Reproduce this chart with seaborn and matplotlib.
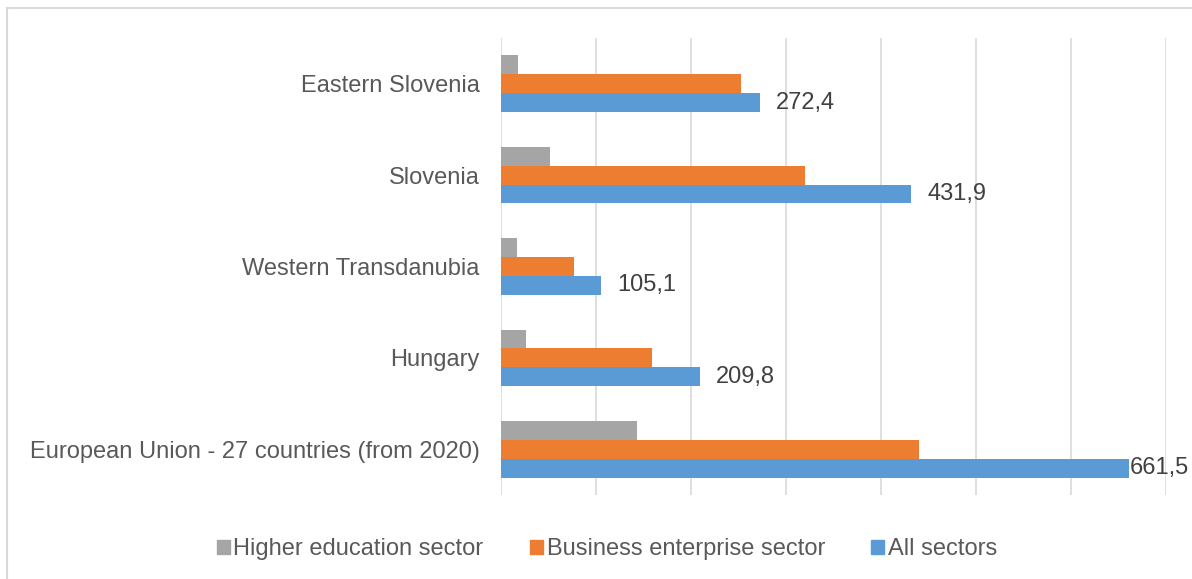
import matplotlib
matplotlib.use("Agg")
import matplotlib.pyplot as plt
import seaborn as sns
import pandas as pd
from matplotlib.patches import Rectangle

regions = ["Eastern Slovenia", "Slovenia", "Western Transdanubia", "Hungary",
           "European Union - 27 countries (from 2020)"]
sectors = ["Higher education sector", "Business enterprise sector", "All sectors"]
higher_education = [18.2, 51.2, 16.8, 25.9, 142.7]
business_enterprise = [252.6, 320.3, 77.2, 158.5, 439.8]
all_sectors = [272.4, 431.9, 105.1, 209.8, 661.5]
colors = ["#a5a5a5", "#ed7d31", "#5b9bd5"]

rows = []
for vals, sec in zip([higher_education, business_enterprise, all_sectors], sectors):
    for r, v in zip(regions, vals):
        rows.append({"region": r, "sector": sec, "value": v})
df = pd.DataFrame(rows)

sns.set_theme(style="white")
plt.rcParams["font.family"] = ["Liberation Sans", "DejaVu Sans"]

W, H = 1192, 579
fig = plt.figure(figsize=(W / 100, H / 100), dpi=100)
ax = fig.add_axes([501 / W, 1 - 495 / H, (1166 - 501) / W, (495 - 38) / H])

sns.barplot(data=df, y="region", x="value", hue="sector", order=regions,
            hue_order=sectors, palette=colors, orient="h", width=0.62,
            saturation=1, ax=ax, legend=True, edgecolor="none", linewidth=0)

ax.set_xlim(0, 700)
ax.set_xticks(range(0, 701, 100))
ax.set_xticklabels([])
ax.tick_params(axis="x", length=0)
ax.tick_params(axis="y", length=0, labelsize=17, labelcolor="#595959", pad=15.5)
ax.set_xlabel("")
ax.set_ylabel("")
ax.grid(axis="x", color="#d9d9d9", linewidth=1.2)
ax.grid(axis="y", visible=False)
ax.set_axisbelow(True)
for s in ax.spines.values():
    s.set_visible(False)

# data labels on the "All sectors" bars
cont = ax.containers[2]
for patch, v in zip(cont.patches, all_sectors):
    y = patch.get_y() + patch.get_height() / 2
    end = patch.get_width()
    off = 0 if end > 0.9 * 700 else 11.5
    ax.annotate(f"{v:.1f}".replace(".", ","), xy=(end, y), xytext=(off, 0),
                textcoords="offset points", ha="left", va="center",
                fontsize=17, color="#404040", annotation_clip=False)

leg = ax.get_legend()
leg.remove()
handles = [Rectangle((0, 0), 1, 1, color=c) for c in colors]
fig.legend(handles, sectors, loc="center", bbox_to_anchor=(607 / W, 1 - 549 / H),
           ncol=3, frameon=False, fontsize=17, labelcolor="#595959",
           handlelength=0.55, handleheight=0.55, handletextpad=0.15,
           columnspacing=1.97)

# chart border
fig.patches.append(Rectangle((7 / W, -0.1), 1.2, 1 - 8 / H + 0.1,
                             transform=fig.transFigure, fill=False,
                             edgecolor="#d9d9d9", linewidth=1.5))

fig.savefig("out.png", dpi=100, facecolor="white")
